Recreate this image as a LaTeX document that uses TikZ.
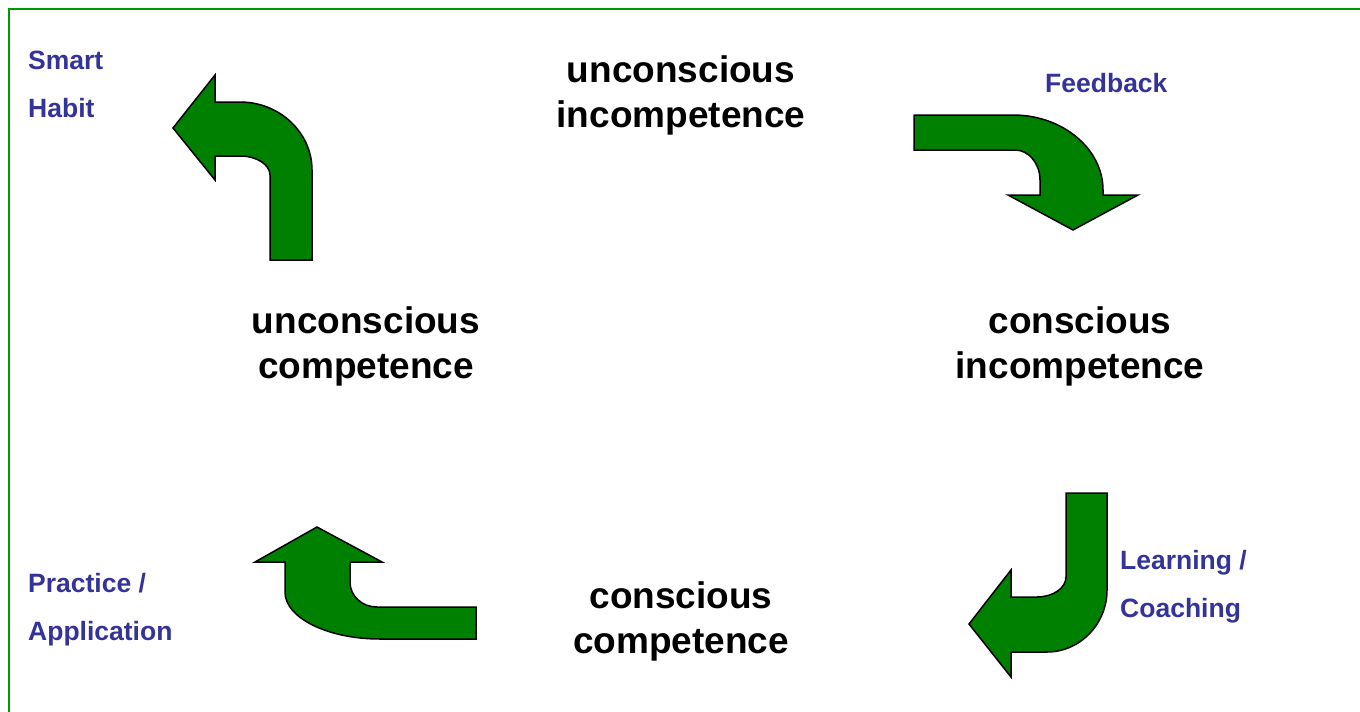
\documentclass[tikz,border=0pt]{standalone}
\usepackage{fontspec}
\setmainfont{Liberation Sans}
\definecolor{arrowgreen}{RGB}{0,128,0}
\definecolor{framegreen}{RGB}{0,153,0}
\definecolor{labelblue}{RGB}{51,51,153}
\begin{document}
\begin{tikzpicture}[x=1pt, y=-1pt, inner sep=0pt]
                \tikzstyle{stage}=[align=center, text=black, font=\fontsize{37}{45}\selectfont\bfseries]
                \tikzstyle{cue}=[align=left, anchor=west, text=labelblue, font=\fontsize{26.5}{48}\selectfont\bfseries]
                \tikzstyle{bent}=[fill=arrowgreen, draw=black, line width=1.5pt]
                \useasboundingbox (0,0) rectangle (1360,712);
                \draw[framegreen, line width=2pt] (1360,9) -- (8.5,9) -- (8.5,712);

                \node[stage]    (UI) at (681,95)    {unconscious\\incompetence};
                \node[stage]    (CI) at (1080,346)  {conscious\\incompetence};
                \node[stage]    (CC) at (681,621)   {conscious\\competence};
                \node[stage]    (UC) at (366,346)   {unconscious\\competence};

                \node[cue]      (habit) at (28,84)       {Smart\\Habit};
                \node[cue]      (feed) at (1045,83)      {Feedback};
                \node[cue]      (learn) at (1120,587)    {Learning /\\Coaching};
                \node[cue]      (prac) at (28,609.5)     {Practice /\\Application};

                \draw[bent] (914,115) -- (1013,115)
                    .. controls (1062.5,115) and (1103,148.75) .. (1103,190)
                    -- (1103,195) -- (1138,195) -- (1073,230) -- (1008,195) -- (1040,195)
                    -- (1040,180) .. controls (1040,163.5) and (1028.75,150) .. (1015,150)
                    -- (914,150) -- cycle;
                \draw[bent] (1066,493) -- (1107,493) -- (1107,590)
                    .. controls (1107,624.1) and (1080,652) .. (1047,652)
                    -- (1011,652) -- (1011,677) -- (969,624) -- (1011,570) -- (1011,597)
                    -- (1037,597) .. controls (1053,597) and (1066,588) .. (1066,577)
                    -- cycle;
                \draw[bent] (476,607) -- (377,607)
                    .. controls (362,607) and (350,596) .. (350,582)
                    -- (350,562) -- (382,562) -- (317,527) -- (255,562) -- (285,562)
                    -- (285,592) .. controls (285,618) and (328,639) .. (380,639)
                    -- (476,639) -- cycle;
                \draw[bent] (312,260) -- (312,170)
                    .. controls (312,132.6) and (279.6,102) .. (240,102)
                    -- (215,102) -- (215,75) -- (173,128) -- (215,180) -- (215,156)
                    -- (240,156) .. controls (256.5,156) and (270,164.5) .. (270,175)
                    -- (270,260) -- cycle;
            \end{tikzpicture}
\end{document}
